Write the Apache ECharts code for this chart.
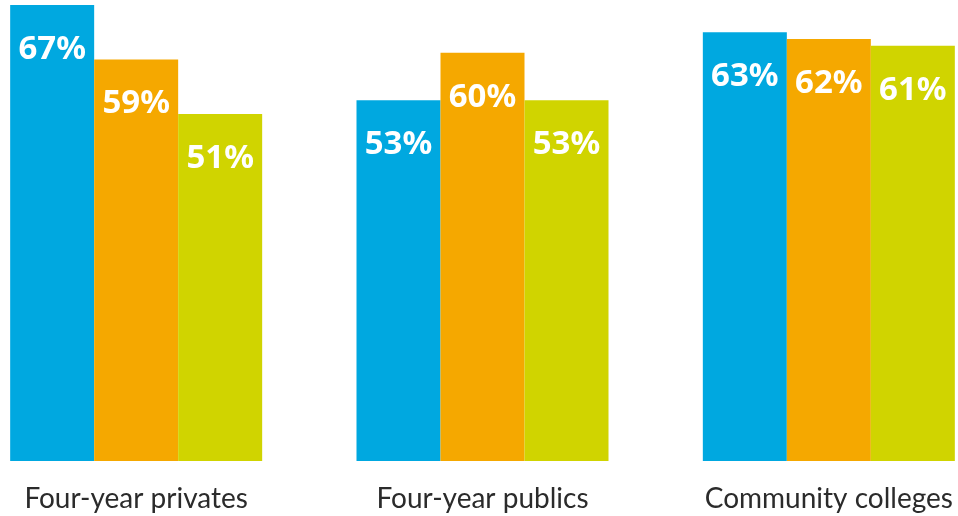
<!DOCTYPE html>
<html>
<head>
<meta charset="utf-8">
<script src="https://cdn.jsdelivr.net/npm/echarts@6/dist/echarts.min.js"></script>
<style>
  html, body { margin: 0; padding: 0; background: #ffffff; overflow: hidden; }
  /* plot area runs slightly past both edges so the outer groups sit flush */
  #chart { width: 1039px; height: 516px; margin-left: -37px; }
</style>
</head>
<body>
<div id="chart"></div>
<script>
// Institution types along the x axis
const categories = ['Four-year privates', 'Four-year publics', 'Community colleges'];

// Percentages for the three bars in each group
const seriesA = [67, 53, 63];
const seriesB = [59, 60, 62];
const seriesC = [51, 53, 61];

const colors = ['#00A8E0', '#F5A800', '#D0D400'];

function barSeries(name, data, color) {
  return {
    name: name,
    type: 'bar',
    data: data,
    barWidth: 84,
    barGap: '0%',
    itemStyle: { color: color },
    label: {
      show: true,
      position: 'insideTop',
      distance: 28,
      color: '#ffffff',
      fontFamily: 'Noto Sans',
      fontWeight: 'bold',
      fontSize: 33,
      formatter: '{c}%'
    },
    emphasis: { disabled: true }
  };
}

const chart = echarts.init(document.getElementById('chart'), null, { renderer: 'canvas' });
chart.setOption({
  animation: false,
  backgroundColor: '#ffffff',
  grid: { left: 0, right: 0, top: 5, bottom: 55, containLabel: false },
  xAxis: {
    type: 'category',
    data: categories,
    axisLine: { show: false },
    axisTick: { show: false },
    axisLabel: {
      margin: 24,
      color: '#2b2b2b',
      fontFamily: 'Lato',
      fontSize: 28,
      interval: 0
    }
  },
  yAxis: {
    type: 'value',
    min: 0,
    max: 67,
    show: false,
    splitLine: { show: false }
  },
  series: [
    barSeries('A', seriesA, colors[0]),
    barSeries('B', seriesB, colors[1]),
    barSeries('C', seriesC, colors[2])
  ]
});
</script>
</body>
</html>
